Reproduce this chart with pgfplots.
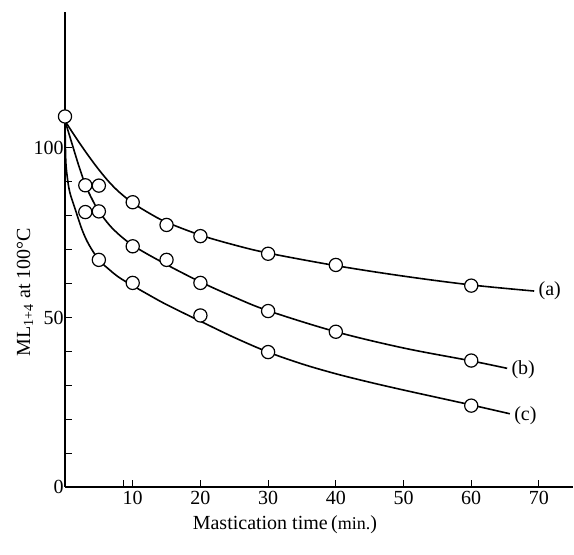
\documentclass[border=0pt]{standalone}
\usepackage{fontspec}
\setmainfont{Liberation Serif}
\usepackage{pgfplots}
\pgfplotsset{compat=1.18}

\begin{document}
\begin{tikzpicture}[font=\fontsize{10}{12}\selectfont]
  \begin{axis}[
      scale only axis,
      width=253.9pt, height=237.3pt,
      xmin=0, xmax=75, ymin=0, ymax=140,
      axis x line=bottom, axis y line=left,
      axis line style={-, line width=0.8pt},
      xtick={10,20,...,70},
      extra x ticks={8.6}, extra x tick labels={},
      ytick={0,50,100},
      minor y tick num=4,
      tick align=inside,
      major tick length=3.5pt, minor tick length=3.5pt,
      tick style={line width=0.5pt, black},
      /pgf/number format/assume math mode=true,
      xticklabel style={inner ysep=2pt},
      yticklabel style={inner xsep=0.5pt},
      xlabel={Mastication time\,({\small min.})},
      xlabel style={at={(axis description cs:0.433,0)}, anchor=center, yshift=-19pt},
      ylabel={ML\textsubscript{1+4} at 100°C},
      ylabel style={at={([xshift=-20pt]axis description cs:0,0.41)}, anchor=center},
      clip=false,
    ]
    % fitted curves
    % (a)
    \addplot[black, line width=0.8pt, smooth, tension=0.55] coordinates {
      (0,108) (1,104.9) (2,101.9) (3.5,97.6) (5,93.6) (6.5,90) (8,87)
      (10,83.8) (12.5,80.7) (15,78.1) (20,74.3) (25,71.4) (30,69)
      (40,65.3) (50,62.2) (60,59.6) (69.3,57.8)};
    % (b)
    \addplot[black, line width=0.8pt, smooth, tension=0.55] coordinates {
      (0,108) (1,101.5) (2,95) (3,89.2) (4,84.9) (5,81.4) (7,76.3)
      (10,71.3) (15,65.6) (20,60.5) (25,56) (30,52) (40,45.8)
      (50,41) (60,37.2) (65.3,35)};
    % (c)
    \addplot[black, line width=0.8pt, smooth, tension=0.55] coordinates {
      (0,108) (0.1,97) (0.3,92) (0.7,87) (1.5,82) (2.5,76) (3.5,71.6)
      (5,67) (6.5,64.2) (8,61.8) (10,59.4) (12,57.1) (15,53.8) (20,48.9)
      (25,44.1) (30,39.8) (35,36.3) (40,33.4) (45,30.9) (50,28.6)
      (55,26.4) (60,24.2) (65.7,21.6)};

    % measured points
    \addplot[only marks, mark=*, mark size=3.3pt,
      mark options={fill=white, draw=black, line width=0.6pt}] coordinates {
      (0,109.3) (5,88.9) (10,84) (15,77.3) (20,74) (30,68.8) (40,65.5) (60,59.4)};
    \addplot[only marks, mark=*, mark size=3.3pt,
      mark options={fill=white, draw=black, line width=0.6pt}] coordinates {
      (3,89) (5,81.3) (10,71) (15,67) (20,60.2) (30,51.9) (40,45.8) (60,37.3)};
    \addplot[only marks, mark=*, mark size=3.3pt,
      mark options={fill=white, draw=black, line width=0.6pt}] coordinates {
      (3,81.1) (5,67) (10,60.2) (20,50.6) (30,39.8) (60,24)};

    \node[anchor=west, inner sep=1pt] at (axis cs:69.6,57.8) {(a)};
    \node[anchor=west, inner sep=1pt] at (axis cs:65.6,34.6) {(b)};
    \node[anchor=west, inner sep=1pt] at (axis cs:66.0,21.0) {(c)};

    \coordinate (O) at (axis cs:0,0);
  \end{axis}
  \pgfresetboundingbox
  \path[use as bounding box] ([shift={(-32.5pt,-34pt)}]O) rectangle ([shift={(254.5pt,243.5pt)}]O);
\end{tikzpicture}
\end{document}
